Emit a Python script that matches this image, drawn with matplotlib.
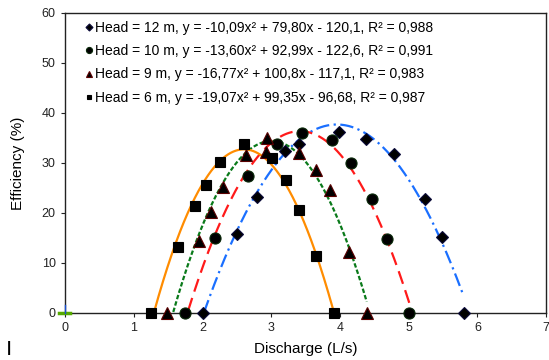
import numpy as np
import matplotlib
matplotlib.use('Agg')
import matplotlib.pyplot as plt

plt.rcParams['font.family'] = ['Liberation Sans', 'DejaVu Sans']

# data
x_12 = [2.01, 2.51, 2.79, 3.20, 3.41, 3.99, 4.38, 4.79, 5.24, 5.49, 5.80]
y_12 = [0.0, 15.7, 23.1, 32.3, 33.8, 36.1, 34.8, 31.8, 22.7, 15.1, 0.0]

x_10 = [1.75, 2.18, 2.67, 3.09, 3.45, 3.88, 4.16, 4.47, 4.68, 5.01]
y_10 = [0.0, 14.9, 27.4, 33.7, 35.9, 34.5, 29.9, 22.7, 14.7, 0.0]

x_9 = [1.49, 1.95, 2.13, 2.30, 2.63, 2.93, 2.94, 3.41, 3.65, 3.85, 4.13, 4.39]
y_9 = [0.0, 14.3, 20.1, 25.1, 31.5, 32.1, 34.9, 31.9, 28.5, 24.5, 12.1, 0.0]

x_6 = [1.25, 1.64, 1.90, 2.05, 2.25, 2.60, 3.01, 3.21, 3.40, 3.65, 3.91]
y_6 = [0.0, 13.1, 21.4, 25.5, 30.1, 33.8, 30.9, 26.6, 20.6, 11.3, 0.0]

# fitted coefficients (a, b, c) from the legend
fit_12 = [-10.09, 79.80, -120.1]
fit_10 = [-13.60, 92.99, -122.6]
fit_9 = [-16.77, 100.8, -117.1]
fit_6 = [-19.07, 99.35, -96.68]

labels = [
    'Head = 12 m, y = -10,09x² + 79,80x - 120,1, R² = 0,988',
    'Head = 10 m, y = -13,60x² + 92,99x - 122,6, R² = 0,991',
    'Head = 9 m, y = -16,77x² + 100,8x - 117,1, R² = 0,983',
    'Head = 6 m, y = -19,07x² + 99,35x - 96,68, R² = 0,987',
]

series = [
    (x_12, y_12, fit_12, 'D', '#0a0a3a', '#1a6fff', (0, (6, 2, 1, 2))),
    (x_10, y_10, fit_10, 'o', '#0a2a0a', '#ff1a1a', (0, (6, 3))),
    (x_9, y_9, fit_9, '^', '#5a0000', '#0a7a1a', (0, (2, 1))),
    (x_6, y_6, fit_6, 's', '#000000', '#ff8c00', '-'),
]
msizes = [6.5, 8, 8, 6.5]

fig = plt.figure(figsize=(5.49, 3.6), dpi=100)
ax = fig.add_axes([0.118, 0.131, 0.877, 0.833])

handles = []
for (xs, ys, fit, mk, edge, lc, ls), ms, lab in zip(series, msizes, labels):
    xx = np.linspace(min(xs), max(xs), 300)
    yy = np.polyval(fit, xx)
    yy = np.where(yy >= 0, yy, np.nan)
    ax.plot(xx, yy, color=lc, linestyle=ls, linewidth=1.6, zorder=2)
    h, = ax.plot(xs, ys, linestyle='none', marker=mk, markersize=ms,
                 markerfacecolor='black', markeredgecolor=edge,
                 markeredgewidth=0.8, label=lab, zorder=3, clip_on=False)
    handles.append(h)

# small stray marks near the origin
ax.plot([-0.09, 0.08], [0, 0], color='#55aa00', linewidth=2.5, clip_on=False, zorder=4)
ax.plot([0.0, 0.0], [0, 1.6], color='#1a4fd0', linewidth=1, clip_on=False, zorder=4)

ax.set_xlim(0, 7)
ax.set_ylim(0, 60)
ax.set_xticks(range(0, 8))
ax.set_yticks(range(0, 61, 10))
ax.tick_params(direction='out', length=3, width=0.8, labelsize=9, colors='#222222')
for sp in ax.spines.values():
    sp.set_linewidth(1.0)
    sp.set_color('#222222')

ax.set_xlabel('Discharge (L/s)', fontsize=11, labelpad=6)
ax.set_ylabel('Efficiency (%)', fontsize=11, labelpad=12)

leg = ax.legend(handles=handles, loc='upper left', bbox_to_anchor=(0.025, 1.0),
                frameon=False, fontsize=10, markerscale=0.55, handlelength=0.6,
                handletextpad=0.15, labelspacing=0.68, borderaxespad=0.15)

fig.text(0.013, 0.022, '|', fontsize=11, fontweight='bold')

fig.savefig('out.png', dpi=100)
